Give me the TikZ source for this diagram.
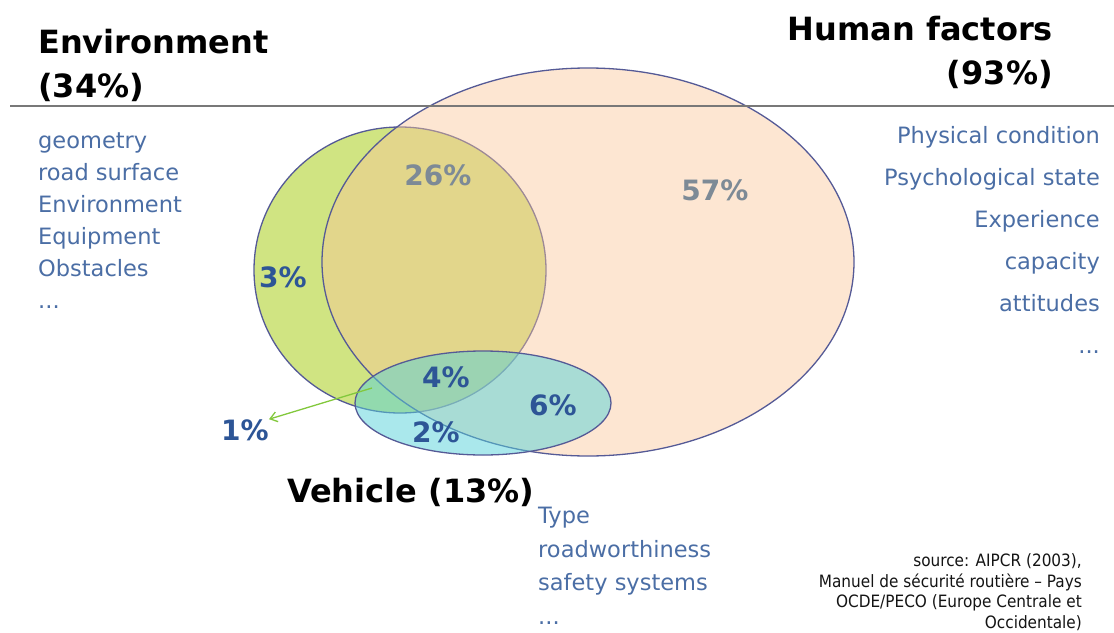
\documentclass[tikz,border=0pt]{standalone}
\usepackage{fontspec}
\setmainfont{DejaVu Sans}
\newfontfamily\condfont{DejaVu Sans Condensed}
\usetikzlibrary{arrows.meta}
\definecolor{envfill}{RGB}{208,228,130}
\definecolor{humfill}{RGB}{250,198,152}
\definecolor{vehfill}{RGB}{86,210,218}
\definecolor{outl}{RGB}{85,90,150}
\definecolor{listblue}{RGB}{75,110,165}
\definecolor{pctblue}{RGB}{45,85,150}
\definecolor{pctgray}{RGB}{125,138,150}
\definecolor{arrowgreen}{RGB}{130,200,60}
\definecolor{rulegray}{RGB}{120,120,120}
\tikzset{
  setline/.style={draw=outl, line width=1.3pt},
  header/.style={font=\fontsize{32}{44}\selectfont\bfseries, text=black, inner sep=0pt},
  listtext/.style={font=\fontsize{22.5}{32}\selectfont, text=listblue, inner sep=0pt},
  pct/.style={font=\fontsize{28}{32}\selectfont\bfseries, text=pctblue, inner sep=0pt},
  pctg/.style={font=\fontsize{28}{32}\selectfont\bfseries, text=pctgray, inner sep=0pt},
}
\begin{document}
\begin{tikzpicture}[x=1pt,y=-1pt]
\useasboundingbox (0,0) rectangle (1114,632);
% environment set
\path[fill=envfill, setline] (400,270) ellipse [x radius=146pt, y radius=143pt];
% human set
\path[fill=humfill, fill opacity=0.44, setline] (588,262) ellipse [x radius=266pt, y radius=194pt];
% rule
\draw[rulegray, line width=1.5pt] (10,106) -- (1114,106);
% vehicle set
\path[fill=vehfill, fill opacity=0.5, setline] (483,403) ellipse [x radius=128pt, y radius=52pt];

% headers (anchor base = baseline of last line)
\node[header, anchor=base west, align=left] (env) at (38,97) {Environment\\(34\%)};
\node[header, anchor=base east, align=right] (hum) at (1053,84) {Human factors\\(93\%)};
\node[header, anchor=base west] (veh) at (287,502) {Vehicle (13\%)};

% lists
\node[listtext, anchor=base west, align=left] (envlist) at (38,308)
  {geometry\\road surface\\Environment\\Equipment\\Obstacles\\...};
\node[listtext, anchor=base east, align=right, font=\fontsize{22.5}{42}\selectfont] (humlist) at (1100,353)
  {Physical condition\\Psychological state\\Experience\\capacity\\attitudes\\...};
\node[listtext, anchor=base west, align=left, font=\fontsize{22.5}{33.5}\selectfont] (vehlist) at (538,624)
  {Type\\roadworthiness\\safety systems\\...};

% percentages
\node[pctg] (p26) at (438,175) {26\%};
\node[pctg] (p57) at (715,190) {57\%};
\node[pct] (p3) at (283,277) {3\%};
\node[pct] (p4) at (446,377) {4\%};
\node[pct] (p6) at (553,405) {6\%};
\node[pct] (p2) at (436,432) {2\%};
\node[pct] (p1) at (245,430) {1\%};

% arrow to 1%
\coordinate (a1) at (372,388);
\draw[arrowgreen, line width=1.3pt, -{Straight Barb[length=7pt,width=10pt]}] (a1) -- (p1.north east);

% source
\node[anchor=base east, align=right, inner sep=0pt, text={rgb,255:red,20;green,20;blue,20},
  font=\condfont\fontsize{17}{20.5}\selectfont] (src) at (1082,628)
  {source: AIPCR (2003),\\Manuel de sécurité routière – Pays\\OCDE/PECO (Europe Centrale et\\Occidentale)};
\end{tikzpicture}
\end{document}
